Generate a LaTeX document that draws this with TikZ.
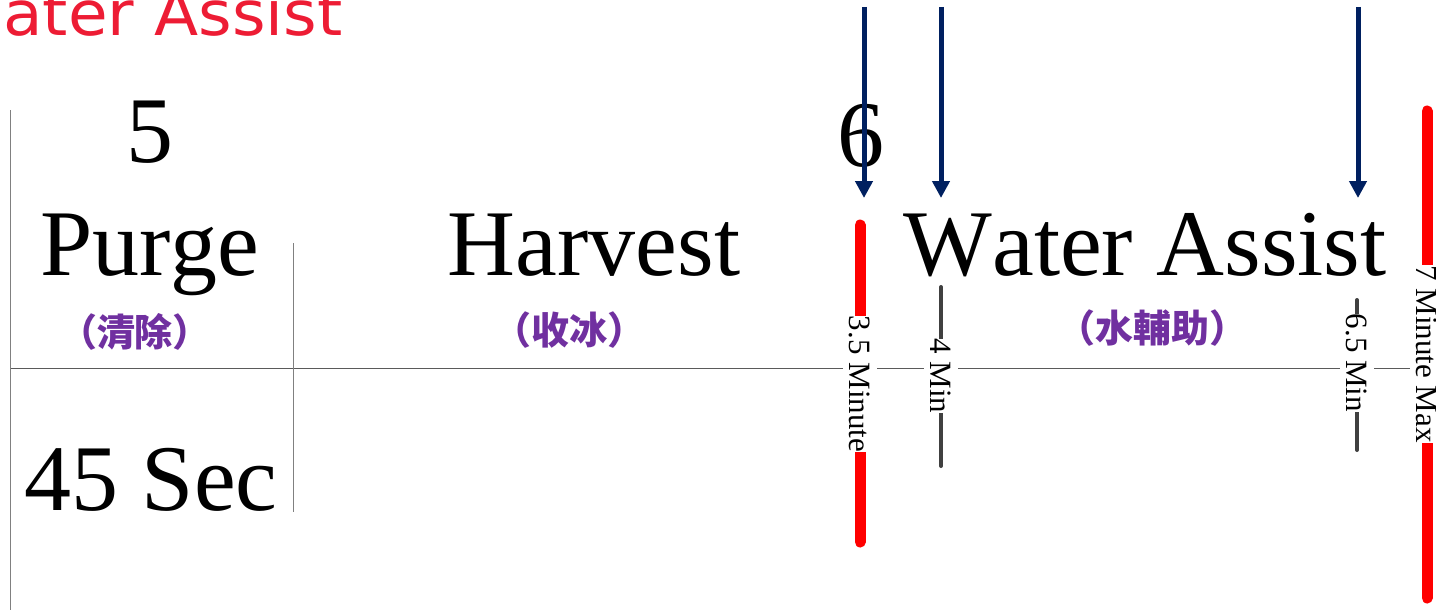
\documentclass[tikz,border=0pt]{standalone}
\usepackage{fontspec}
\setmainfont{Liberation Serif}[Kerning=Off]
\newfontfamily\cjkfont{Noto Sans CJK TC}
\newfontfamily\bannerfont{DejaVu Sans}
\usetikzlibrary{arrows.meta}
\definecolor{navyarrow}{HTML}{002060}
\definecolor{labelpurple}{HTML}{7030A0}
\definecolor{bannerred}{HTML}{ED1C34}
\definecolor{rulegray}{HTML}{5A5A5A}
\definecolor{bargray}{HTML}{404040}

\begin{document}
\begin{tikzpicture}[x=1pt,y=-1pt,
  bigtext/.style={font=\fontsize{94}{100}\selectfont, anchor=base, inner sep=0pt},
  cntext/.style={font=\cjkfont\bfseries\fontsize{38}{40}\selectfont, text=labelpurple, inner sep=0pt},
  timelabel/.style={font=\fontsize{31}{34}\selectfont, rotate=-90, fill=white, inner xsep=0pt, inner ysep=7pt},
  redbar/.style={line width=11pt, red, line cap=round},
  graybar/.style={line width=4pt, bargray, line cap=round},
  rule/.style={line width=1pt, rulegray},
  frame/.style={line width=1pt, gray},
  downarrow/.style={line width=5pt, navyarrow, -{Triangle[width=17pt,length=17pt]}}
]
\useasboundingbox (0,0) rectangle (1436,610);

% partly visible banner in the top left corner
\node[font=\bannerfont\fontsize{62}{66}\selectfont, text=bannerred, anchor=base west,
      xscale=1.04, inner sep=0pt] (banner) at (3,36) {ater Assist};

% grid lines
\coordinate (hl) at (10,368);
\coordinate (hr) at (1436,368);
\coordinate (vlt) at (10,110);
\coordinate (vlb) at (10,610);
\coordinate (vmt) at (293,243);
\coordinate (vmb) at (293,512);
\draw[rule] (hl) -- (hr);
\draw[frame] (vlt) -- (vlb);
\draw[frame] (vmt) -- (vmb);

% timing bars
\coordinate (r1t) at (860,225);
\coordinate (r1b) at (860,542);
\coordinate (r2t) at (1427,111);
\coordinate (r2b) at (1427,598);
\coordinate (g1t) at (941,287);
\coordinate (g1b) at (941,466);
\coordinate (g2t) at (1357,300);
\coordinate (g2b) at (1357,450);
\draw[redbar] (r1t) -- (r1b);
\draw[redbar] (r2t) -- (r2b);
\draw[graybar] (g1t) -- (g1b);
\draw[graybar] (g2t) -- (g2b);

\node[timelabel] (t35) at (860,384) {3.5 Minute};
\node[timelabel] (t4) at (941,376) {4 Min};
\node[timelabel] (t65) at (1357,363) {6.5 Min};
\node[timelabel] (t7) at (1427,354) {7 Minute Max};

% step numbers and names
\node[bigtext] (n5) at (150,162) {5};
\node[bigtext] (n6) at (861,166) {6};
\node[bigtext] (purge) at (150,275) {Purge};
\node[bigtext] (harvest) at (594,275) {Harvest};
\node[bigtext] (water) at (1145,275) {Water Assist};
\node[bigtext] (sec) at (151,510) {45 Sec};

\node[cntext] (cn1) at (135,332) {（清除）};
\node[cntext] (cn2) at (569,330) {（收冰）};
\node[cntext] (cn3) at (1152,328) {（水輔助）};

% arrows from above
\coordinate (a1s) at (864,7);
\coordinate (a1e) at (864,198);
\coordinate (a2s) at (941,7);
\coordinate (a2e) at (941,198);
\coordinate (a3s) at (1358,7);
\coordinate (a3e) at (1358,198);
\draw[downarrow] (a1s) -- (a1e);
\draw[downarrow] (a2s) -- (a2e);
\draw[downarrow] (a3s) -- (a3e);
\end{tikzpicture}
\end{document}
